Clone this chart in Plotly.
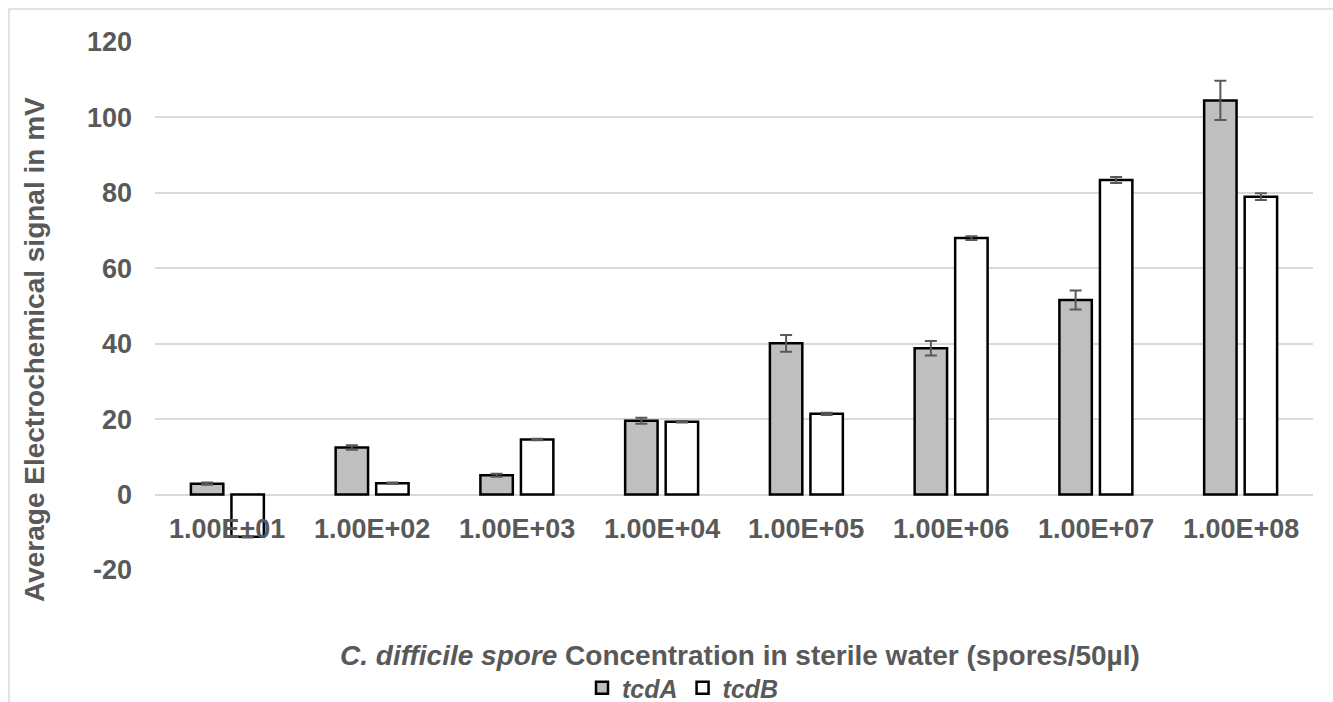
import plotly.graph_objects as go
import plotly

categories = ["1.00E+01", "1.00E+02", "1.00E+03", "1.00E+04",
              "1.00E+05", "1.00E+06", "1.00E+07", "1.00E+08"]
tcdA = [2.9, 12.5, 5.1, 19.6, 40.1, 38.8, 51.6, 104.5]
tcdA_err = [0.3, 0.6, 0.4, 0.8, 2.2, 1.9, 2.5, 5.2]
tcdB = [-11.2, 3.0, 14.6, 19.3, 21.4, 68.0, 83.4, 79.0]
tcdB_err = [0.2, 0.2, 0.2, 0.2, 0.3, 0.5, 0.8, 0.9]
y_ticks = [-20, 0, 20, 40, 60, 80, 100, 120]

W, H = 1333, 702
L, R, T, B = 155, 20, 42, 132
pw, ph = W - L - R, H - T - B

def px_x(p):
    return (p - L) / pw

def px_y(p):
    return (H - B - p) / ph

GRAY = "#595959"
FONT = "Liberation Sans, Arial, sans-serif"

fig = go.Figure()
fig.add_trace(go.Bar(
    name="<b><i>tcdA</i></b>", x=categories, y=tcdA,
    marker=dict(color="#BFBFBF", line=dict(color="black", width=2.5)),
    error_y=dict(type="data", array=tcdA_err, color=GRAY, thickness=2, width=6),
))
fig.add_trace(go.Bar(
    name="<b><i>tcdB</i></b>", x=categories, y=tcdB,
    marker=dict(color="white", line=dict(color="black", width=2.5)),
    error_y=dict(type="data", array=tcdB_err, color=GRAY, thickness=2, width=6),
))

annotations = []
for i, c in enumerate(categories):
    annotations.append(dict(
        x=i, y=0, xref="x", yref="y", text="<b>%s</b>" % c, showarrow=False,
        yanchor="middle", yshift=-34,
        font=dict(family=FONT, size=27, color=GRAY),
    ))
annotations.append(dict(
    x=px_x(35), y=px_y(350), xref="paper", yref="paper",
    text="<b>Average Electrochemical signal in mV</b>", textangle=-90,
    showarrow=False, xanchor="center", yanchor="middle",
    font=dict(family=FONT, size=28, color=GRAY),
))
annotations.append(dict(
    x=px_x(740), y=px_y(655), xref="paper", yref="paper",
    text="<b><i>C. difficile spore</i> Concentration in sterile water (spores/50µl)</b>",
    showarrow=False, xanchor="center", yanchor="middle",
    font=dict(family=FONT, size=28, color=GRAY),
))

fig.update_layout(
    width=W, height=H,
    margin=dict(l=L, r=R, t=T, b=B),
    paper_bgcolor="white", plot_bgcolor="white",
    barmode="group", bargap=0.44, bargroupgap=0.2,
    annotations=annotations,
    showlegend=True,
    legend=dict(orientation="h", xref="container", yref="container",
                x=683 / W, y=1 - 688 / H, xanchor="center",
                yanchor="middle", font=dict(family=FONT, size=25, color=GRAY),
                itemwidth=30, traceorder="normal", tracegroupgap=0,
                bgcolor="rgba(0,0,0,0)"),
    shapes=[dict(type="rect", xref="paper", yref="paper",
                 x0=px_x(9), x1=px_x(1345), y0=px_y(9), y1=px_y(760),
                 line=dict(color="#D9D9D9", width=1.5), layer="below")],
    xaxis=dict(type="category", categoryorder="array", categoryarray=categories,
               showticklabels=False, showgrid=False,
               zeroline=False, showline=False, ticks=""),
    yaxis=dict(range=[-20, 120], tickvals=y_ticks,
               ticktext=["<b>%d</b>" % v for v in y_ticks],
               tickfont=dict(family=FONT, size=27, color=GRAY),
               showgrid=True, gridcolor="#D9D9D9", gridwidth=2,
               zeroline=True, zerolinecolor="#D9D9D9", zerolinewidth=2,
               showline=False, ticks="", ticklabelstandoff=22),
)

fig.write_html("out.html")
